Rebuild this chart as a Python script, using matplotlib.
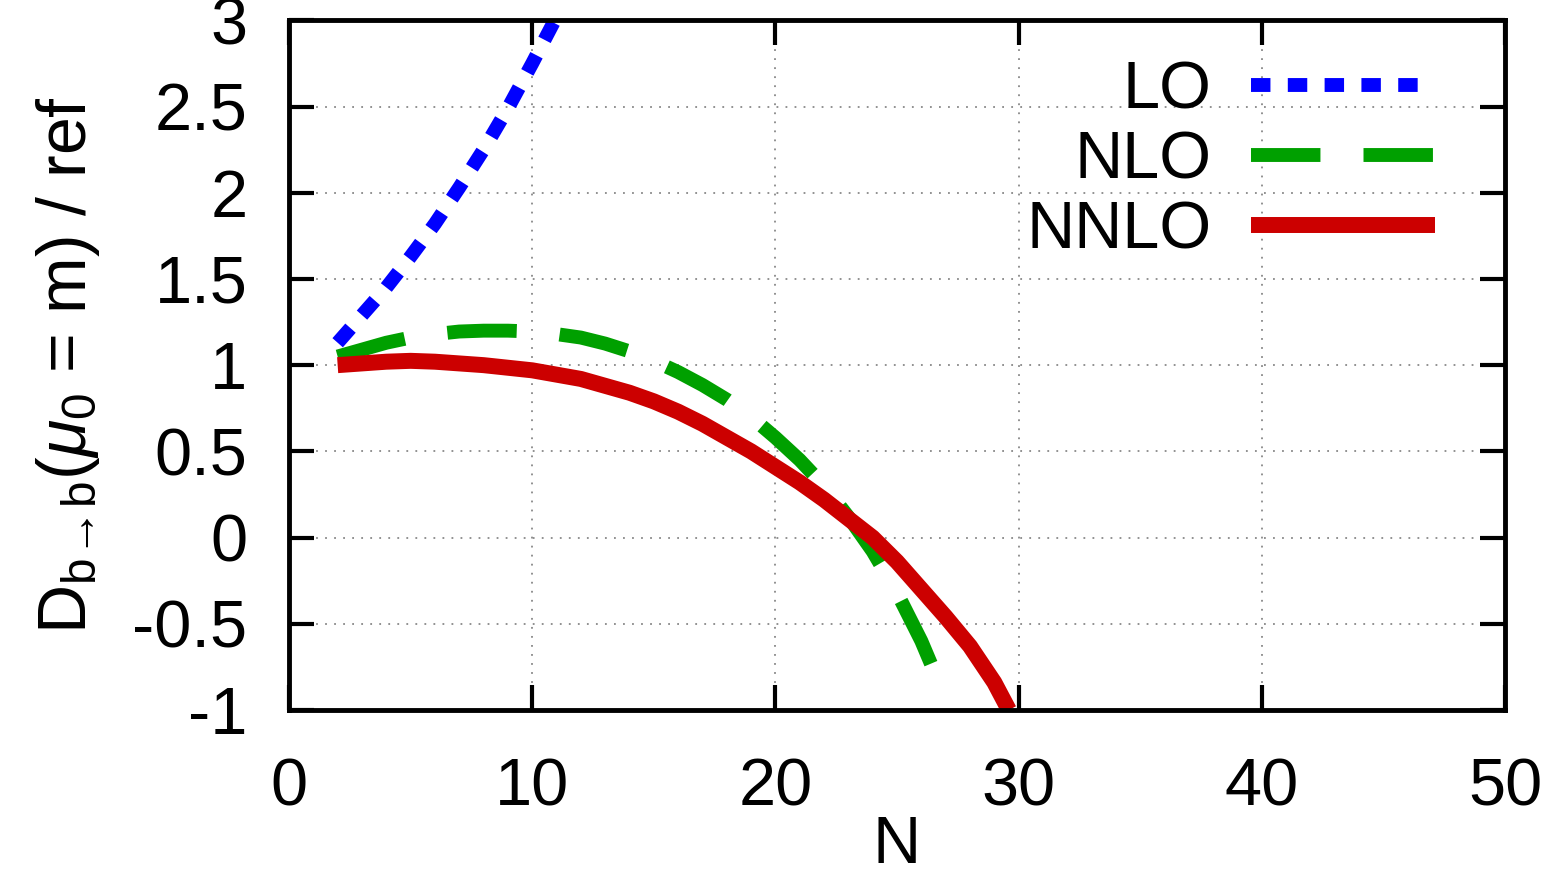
import matplotlib
matplotlib.use("Agg")
import matplotlib.pyplot as plt

plt.rcParams['font.family'] = ['Liberation Sans', 'DejaVu Sans']
plt.rcParams['mathtext.fontset'] = 'custom'
plt.rcParams['mathtext.rm'] = 'Liberation Sans'
plt.rcParams['mathtext.it'] = 'Liberation Sans:italic'

# values
n_lo = [2, 3, 4, 5, 6, 7, 8, 9, 10, 11, 12]
lo = [1.13, 1.29, 1.45, 1.63, 1.82, 2.03, 2.25, 2.49, 2.75, 3.02, 3.3]

n_nlo = [2, 3, 4, 5, 6, 7, 8, 9, 10, 11, 12, 13, 14, 15, 16, 17, 18, 19, 20,
         21, 22, 23, 24, 25, 26, 26.6]
nlo = [1.05, 1.09, 1.13, 1.16, 1.18, 1.195, 1.20, 1.20, 1.195, 1.18, 1.16, 1.125,
       1.08, 1.025, 0.96, 0.885, 0.80, 0.70, 0.58, 0.45, 0.30, 0.12, -0.08,
       -0.32, -0.60, -0.80]

n_nnlo = [2, 3, 4, 5, 6, 7, 8, 9, 10, 11, 12, 13, 14, 15, 16, 17, 18, 19, 20,
          21, 22, 23, 24, 25, 26, 27, 28, 29, 29.6]
nnlo = [1.00, 1.01, 1.02, 1.025, 1.02, 1.01, 1.00, 0.985, 0.97, 0.945, 0.92,
        0.88, 0.84, 0.79, 0.73, 0.66, 0.58, 0.50, 0.41, 0.32, 0.22, 0.11, 0.00,
        -0.14, -0.30, -0.46, -0.63, -0.84, -1.00]

x_ticks = [0, 10, 20, 30, 40, 50]
y_ticks = [-1, -0.5, 0, 0.5, 1, 1.5, 2, 2.5, 3]
y_tick_labels = ['-1', '-0.5', '0', '0.5', '1', '1.5', '2', '2.5', '3']

fig = plt.figure(figsize=(15.58, 8.82), dpi=100)
ax = fig.add_axes([0.1855, 0.195, 0.7805, 0.782])

ax.plot(n_lo, lo, color='#0000ff', lw=10, linestyle=(0, (1.4, 1.25)),
        dash_capstyle='butt', label='LO')
ax.plot(n_nlo, nlo, color='#00a000', lw=10, linestyle=(0, (5, 3.1)),
        dash_capstyle='butt', label='NLO')
ax.plot(n_nnlo, nnlo, color='#cc0000', lw=11.5, solid_capstyle='butt',
        solid_joinstyle='round', label='NNLO')

ax.set_xlim(0, 50)
ax.set_ylim(-1, 3)
ax.set_xticks(x_ticks)
ax.set_yticks(y_ticks)
ax.set_yticklabels(y_tick_labels)
ax.grid(True, color='#888888', linestyle=(0, (1, 4)), lw=1.3)

ax.tick_params(direction='in', length=18, width=3, labelsize=48,
               top=True, right=True)
ax.tick_params(axis='y', pad=30)
ax.tick_params(axis='x', pad=34)
for sp in ax.spines.values():
    sp.set_linewidth(3.5)

ax.set_xlabel('N', fontsize=48, labelpad=-3)
ax.set_ylabel(r'D$_{\mathrm{b\!\rightarrow\! b}}$($\mu_0$ = m) / ref', fontsize=49, labelpad=22)

ax.legend(loc='upper right', frameon=False, fontsize=48, markerfirst=False,
          handlelength=2.75, handletextpad=0.6, labelspacing=0.12,
          borderaxespad=0.2, bbox_to_anchor=(0.975, 1.0))

fig.savefig('out.png', dpi=100)
